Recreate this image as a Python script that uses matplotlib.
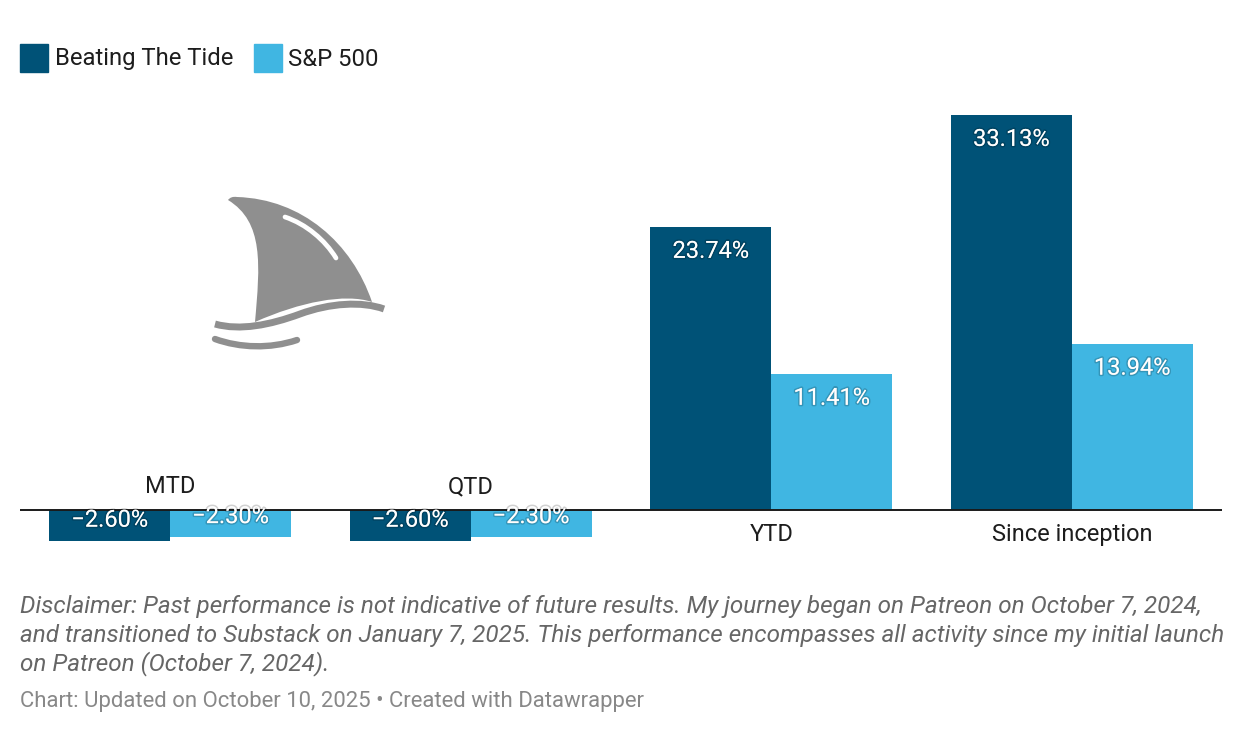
import matplotlib
matplotlib.use("Agg")
import matplotlib.pyplot as plt
import matplotlib.patheffects as pe
from matplotlib.path import Path
from matplotlib.patches import PathPatch, Rectangle
import numpy as np

plt.rcParams['font.family'] = ['Roboto', 'DejaVu Sans']

# data
categories = ['MTD', 'QTD', 'YTD', 'Since inception']
btt = [-2.60, -2.60, 23.74, 33.13]
spx = [-2.30, -2.30, 11.41, 13.94]
series_names = ['Beating The Tide', 'S&P 500']
dark = '#005277'
light = '#40b6e2'

W, H = 1242, 736
fig = plt.figure(figsize=(W / 100, H / 100), dpi=100)

# main bar axes, placed in pixel terms
ax_l, ax_r, ax_t, ax_b = 20, 1222, 100, 560
ax = fig.add_axes([ax_l / W, 1 - ax_b / H, (ax_r - ax_l) / W, (ax_b - ax_t) / H])
ppu = 11.92  # pixels per percent
ax.set_xlim(-0.5, 3.5)
ax.set_ylim(-(ax_b - 510) / ppu, (510 - ax_t) / ppu)
ax.axis('off')

x = np.arange(len(categories))
bw = 0.402
b1 = ax.bar(x - bw / 2, btt, bw, color=dark, zorder=2)
b2 = ax.bar(x + bw / 2, spx, bw, color=light, zorder=2)
ax.axhline(0, color='#1a1a1a', lw=1.4, zorder=4)

shadow = [pe.withStroke(linewidth=2.2, foreground=(0, 0, 0, 0.18))]
for bars, vals in ((b1, btt), (b2, spx)):
    for rect, v in zip(bars, vals):
        cx = rect.get_x() + rect.get_width() / 2
        off = -17.5 if v > 0 else 15
        txt = f'{v:.2f}%'.replace('-', '\u2212')
        ax.annotate(txt, (cx, v), xytext=(0, off), textcoords='offset points',
                    ha='center', va='center', color='white', fontsize=17,
                    zorder=5, path_effects=shadow)

for xi, cat, v in zip(x, categories, btt):
    off = 17 if v < 0 else -17.5
    ax.annotate(cat, (xi, 0), xytext=(0, off), textcoords='offset points',
                ha='center', va='center', color='#1d1d1d', fontsize=17)

# legend
for (lx, tx), name, col in zip(((20, 55), (254, 288)), series_names, (dark, light)):
    fig.patches.append(Rectangle((lx / W, 1 - 72 / H), 28 / W, 28 / H,
                                 transform=fig.transFigure, color=col))
    fig.text(tx / W, 1 - 59 / H, name, ha='left', va='center',
             fontsize=17.2, color='#1d1d1d')

# shark fin logo
lg = fig.add_axes([200 / W, 1 - 360 / H, 200 / W, 180 / H])
lg.set_xlim(200, 400)
lg.set_ylim(360, 180)
lg.axis('off')
grey = '#8f8f8f'
fin = Path(
    [(255, 322), (260, 265), (264, 222), (228, 200),
     (231, 196), (237, 197),
     (302, 199), (352, 243), (372, 302),
     (345, 293), (300, 302), (255, 322), (255, 322)],
    [Path.MOVETO, Path.CURVE4, Path.CURVE4, Path.CURVE4,
     Path.CURVE3, Path.CURVE3,
     Path.CURVE4, Path.CURVE4, Path.CURVE4,
     Path.CURVE4, Path.CURVE4, Path.CURVE4, Path.CLOSEPOLY])
lg.add_patch(PathPatch(fin, fc=grey, ec='none'))
wave1 = Path([(215, 324), (240, 331), (270, 325), (300, 314),
              (330, 303), (362, 301), (384, 309)],
             [Path.MOVETO] + [Path.CURVE4] * 6)
lg.add_patch(PathPatch(wave1, fc='none', ec=grey, lw=5, capstyle='butt'))
wave2 = Path([(215, 339), (240, 348), (270, 349), (297, 340)],
             [Path.MOVETO] + [Path.CURVE4] * 3)
lg.add_patch(PathPatch(wave2, fc='none', ec=grey, lw=4.6, capstyle='round'))
hl = Path([(285, 217), (306, 224), (325, 240), (336, 258)],
          [Path.MOVETO] + [Path.CURVE4] * 3)
lg.add_patch(PathPatch(hl, fc='none', ec='white', lw=3.4, capstyle='round'))

# notes
notes = ['Disclaimer: Past performance is not indicative of future results. My journey began on Patreon on October 7, 2024,',
         'and transitioned to Substack on January 7, 2025. This performance encompasses all activity since my initial launch',
         'on Patreon (October 7, 2024).']
for i, line in enumerate(notes):
    fig.text(20 / W, 1 - (607 + 28.5 * i) / H, line, ha='left', va='center',
             fontsize=17.45, style='italic', color='#666666')
fig.text(20 / W, 1 - 701 / H, 'Chart: Updated on October 10, 2025 \u2022 Created with Datawrapper',
         ha='left', va='center', fontsize=15.9, color='#888888')

fig.savefig('out.png', dpi=100, facecolor='white')
